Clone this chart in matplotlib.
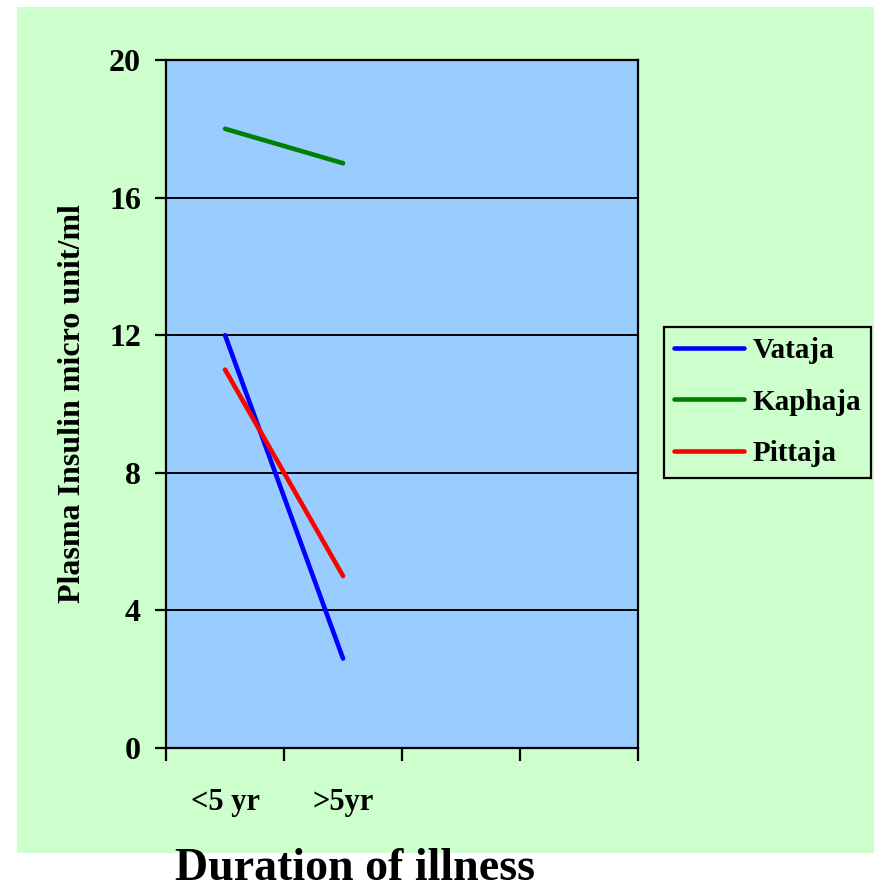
import numpy as np
import matplotlib
matplotlib.use('Agg')
import matplotlib.pyplot as plt
from matplotlib.patches import Rectangle

# data
durations = ['<5 yr', '>5yr']
n_slots = 4  # the category axis has four slots, only two are used
vataja = [12.0, 2.6]
kaphaja = [18.0, 17.0]
pittaja = [11.0, 5.0]
y_ticks = [0, 4, 8, 12, 16, 20]

plt.rcParams['font.family'] = ['Liberation Serif', 'DejaVu Serif']
plt.rcParams['font.weight'] = 'bold'

fig = plt.figure(figsize=(8.74, 8.89), dpi=100, facecolor='white')

# green chart area behind everything
fig.patches.append(Rectangle((17 / 874, 1 - 853 / 889), 1 - 17 / 874, (853 - 7) / 889,
                             transform=fig.transFigure, facecolor='#CCFFCC',
                             edgecolor='none', zorder=-10))

ax = fig.add_axes([0.190, 0.1586, 0.540, 0.7739])
ax.set_facecolor('#99CCFF')

x = np.arange(len(durations))
ax.plot(x, vataja, color='#0000FF', lw=3.3, solid_capstyle='round', label='Vataja', zorder=3)
ax.plot(x, kaphaja, color='#008000', lw=3.3, solid_capstyle='round', label='Kaphaja', zorder=3)
ax.plot(x, pittaja, color='#FF0000', lw=3.3, solid_capstyle='round', label='Pittaja', zorder=3)

ax.set_xlim(-0.5, n_slots - 0.5)
ax.set_ylim(0, 20)

# gridlines
ax.set_yticks(y_ticks)
ax.yaxis.grid(True, color='black', lw=1.4)
ax.set_axisbelow(True)

# tick marks on slot boundaries, labels on slot centres
ax.set_xticks(np.arange(n_slots + 1) - 0.5)
ax.set_xticklabels([])
ax.set_xticks(x, minor=True)
ax.set_xticklabels(durations, minor=True)
ax.tick_params(axis='x', which='major', direction='out', length=9, width=1.6)
ax.tick_params(axis='x', which='minor', length=0, pad=29, labelsize=22)
ax.tick_params(axis='y', direction='out', length=8, width=1.6, pad=10, labelsize=23)

for s in ax.spines.values():
    s.set_color('black')
    s.set_linewidth(1.6)

ax.set_ylabel('Plasma Insulin micro unit/ml', fontsize=23, fontweight='bold')
ax.yaxis.set_label_coords(-0.168, 0.5)

fig.text(355 / 874, 1 - 880 / 889, 'Duration of illness', fontsize=33,
         fontweight='bold', ha='center', va='baseline')

leg = ax.legend(loc='center left', bbox_to_anchor=(664 / 874, 1 - 402 / 889),
                bbox_transform=fig.transFigure, fontsize=21, frameon=True,
                fancybox=False, edgecolor='black', facecolor='#CCFFCC', framealpha=1,
                handlelength=2.4, handletextpad=0.28, labelspacing=0.85,
                borderpad=0.35, borderaxespad=0)
leg.get_frame().set_linewidth(1.6)

fig.savefig('out.png', dpi=100)
